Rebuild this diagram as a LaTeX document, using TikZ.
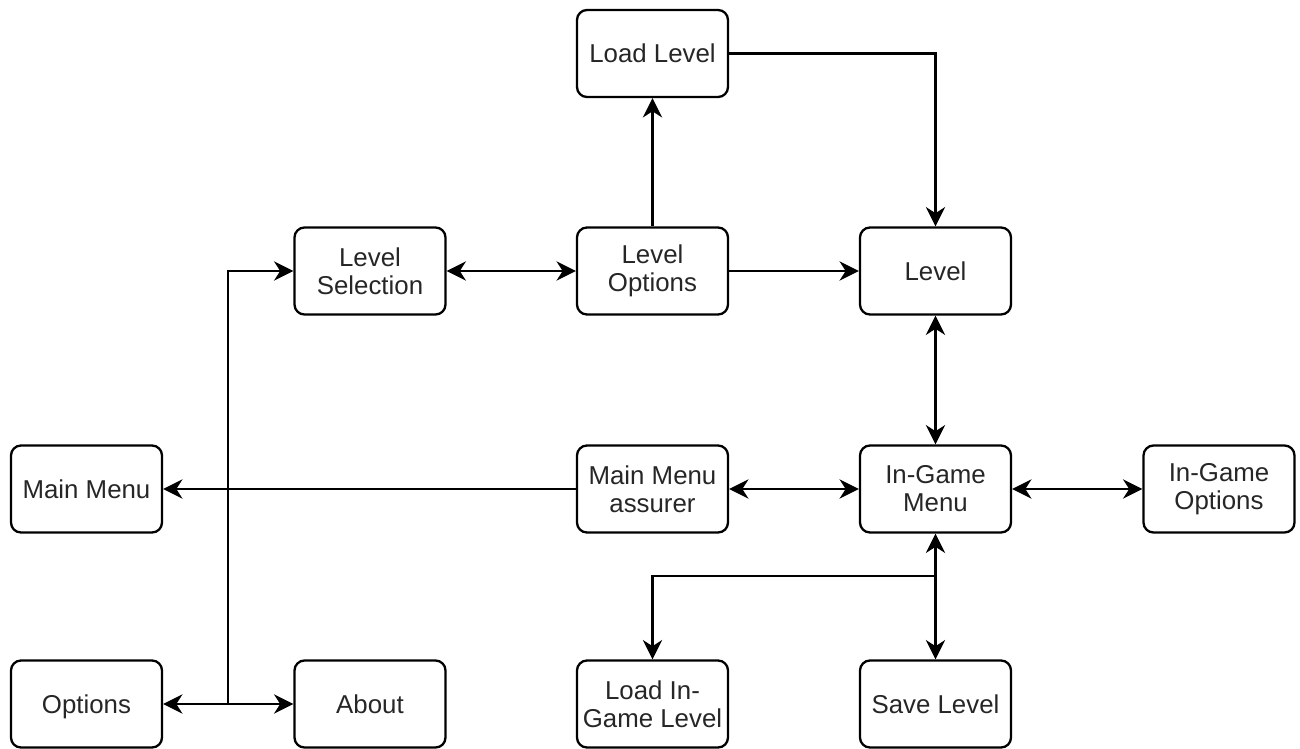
\documentclass[tikz,border=0pt]{standalone}
\usepackage{fontspec}
\setmainfont{Liberation Sans}
\usetikzlibrary{calc,arrows.meta}

\begin{document}
\begin{tikzpicture}[>={Stealth[length=11pt, width=11pt, inset=3.5pt]},
    line width=1.3pt,
    screen/.style={draw=black, rounded corners=0.2cm, minimum width=3.02cm,
                   minimum height=1.74cm, inner sep=2pt, align=center,
                   font=\fontsize{14.7}{16}\selectfont, text=black!85},
    oneline/.style={screen, text height=10.6pt, text depth=0pt}]
  \useasboundingbox (0,0) rectangle (26,-14.98);

  % rows of screens
  \node[oneline] (load) at (13.05, -1.07) {Load Level};
  \node[screen] (sel)  at (7.40, -5.42)  {Level\\Selection};
  \node[screen] (lopt) at (13.05, -5.42) {Level\\Options};
  \node[oneline] (lvl)  at (18.71, -5.42) {Level};
  \node[oneline] (mm)   at (1.73, -9.78)  {Main Menu};
  \node[screen] (mma)  at (13.05, -9.78) {Main Menu\\assurer};
  \node[screen] (igm)  at (18.71, -9.78) {In-Game\\Menu};
  \node[screen] (igo)  at (24.38, -9.78) {In-Game\\Options};
  \node[oneline] (opt)  at (1.73, -14.08) {Options};
  \node[oneline] (about) at (7.40, -14.08) {About};
  \node[screen] (lig)  at (13.05, -14.08) {Load In-\\Game Level};
  \node[oneline] (save) at (18.71, -14.08) {Save Level};

  \coordinate (jo) at ($(opt.east)!0.5!(about.west)$);
  \coordinate (k) at (18.71, -11.52);

  \draw[->] (lopt) -- (load);
  \draw[->] (load) -| (lvl);
  \draw[<->] (sel) -- (lopt);
  \draw[->] (lopt) -- (lvl);
  \draw[<->] (lvl) -- (igm);
  \draw[->] (mma) -- (mm);
  \draw[<->] (mma) -- (igm);
  \draw[<->] (igm) -- (igo);
  \draw[<->] (igm) -- (save);
  \draw[->] (k) -| (lig);
  \draw[<->] (opt) -- (about);
  \draw[->] (jo) |- (sel);
\end{tikzpicture}
\end{document}
